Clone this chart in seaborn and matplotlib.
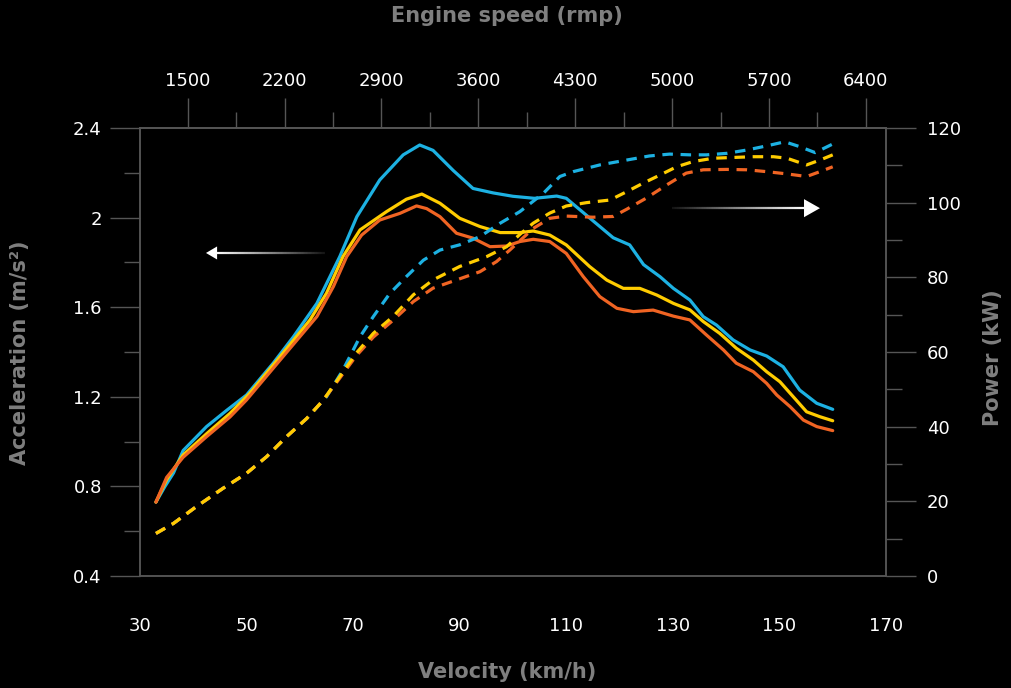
import numpy as np
import matplotlib
matplotlib.use("Agg")
import matplotlib.pyplot as plt
import matplotlib.ticker as ticker
from matplotlib.collections import LineCollection
import seaborn as sns

# --- data ---
# acceleration (left axis), solid lines
v_acc_blue = [33, 34.7, 36.3, 38.1, 42.5, 46.3, 50, 55, 58.8, 63.2, 67.5, 70.7, 75, 79.4, 82.5, 85, 88.8,
              92.5, 96.3, 100, 104, 108.2, 110, 113.8, 116.3, 118.8, 121.9, 124.5, 127.6, 130.1, 133.2,
              135.7, 138.2, 141.3, 144.5, 147.6, 150.7, 153.8, 157, 160]
acc_blue = [0.73, 0.80, 0.86, 0.96, 1.067, 1.14, 1.208, 1.35, 1.468, 1.617, 1.826, 2.004, 2.168, 2.28, 2.324,
            2.30, 2.21, 2.13, 2.11, 2.095, 2.086, 2.096, 2.086, 2.01, 1.96, 1.91, 1.878, 1.79, 1.736, 1.684,
            1.632, 1.558, 1.52, 1.454, 1.409, 1.382, 1.334, 1.23, 1.171, 1.144]

v_acc_yellow = [33, 35, 38.1, 42.5, 46.9, 50.6, 56.3, 61.9, 65, 68.1, 71.3, 76.3, 80, 82.9, 86.3, 90, 93.8,
                97.6, 101.3, 103.8, 106.9, 110, 114.4, 117.6, 120.7, 123.8, 127, 130.1, 133.2, 135.7, 138.8,
                141.9, 145.1, 147.6, 150.1, 152.6, 155.1, 157.6, 160]
acc_yellow = [0.73, 0.83, 0.94, 1.035, 1.126, 1.215, 1.379, 1.543, 1.662, 1.826, 1.945, 2.027, 2.082, 2.105,
              2.064, 1.997, 1.96, 1.933, 1.933, 1.94, 1.922, 1.878, 1.781, 1.721, 1.684, 1.684, 1.654, 1.617,
              1.588, 1.536, 1.483, 1.417, 1.364, 1.312, 1.267, 1.2, 1.133, 1.111, 1.093]

v_acc_orange = [33, 35, 38.1, 42.5, 46.9, 50, 56.3, 63.2, 66.3, 68.8, 71.6, 75, 78.8, 81.9, 83.8, 86.3, 89.4,
                92.5, 95.7, 98.8, 101.3, 103.8, 106.9, 110, 113.2, 116.3, 119.5, 122.6, 126.3, 130.1, 133.2,
                136.3, 139.5, 141.9, 145.1, 147.6, 149.5, 152, 154.5, 157, 160]
acc_orange = [0.73, 0.84, 0.93, 1.022, 1.11, 1.186, 1.364, 1.558, 1.692, 1.826, 1.922, 1.989, 2.019, 2.052,
              2.04, 2.004, 1.93, 1.908, 1.87, 1.873, 1.893, 1.903, 1.893, 1.84, 1.736, 1.647, 1.595, 1.58,
              1.587, 1.56, 1.543, 1.476, 1.409, 1.35, 1.312, 1.26, 1.208, 1.156, 1.096, 1.067, 1.049]

# power (right axis), dashed lines
v_pow_blue = [33, 36.3, 40.6, 45.6, 50, 53.8, 57.5, 61.3, 65, 68.1, 71.3, 73.8, 76.9, 80, 83.2, 86.3, 90,
              93.8, 97.6, 101.3, 105.7, 108.8, 111.3, 116.3, 121.3, 125.6, 129.4, 133.2, 136.3, 140.1, 143.9,
              147.6, 151, 153.8, 156.7, 160]
pow_blue = [11.4, 14.1, 18.6, 23.5, 27.5, 32, 37.3, 42.2, 48, 55.2, 64.1, 69.5, 75.7, 80.2, 84.6, 87.3, 88.7,
            90.9, 94.5, 97.6, 102.5, 107, 108.3, 110.1, 111.4, 112.5, 113, 112.8, 112.8, 113.2, 114.1, 115.2,
            116.3, 115, 113.4, 115.7]

v_pow_orange = [33, 36.3, 40.6, 45.6, 50, 53.8, 57.5, 61.3, 64.4, 67.5, 70.6, 73.8, 77.5, 81.3, 85, 89.4,
                93.8, 96.9, 99.4, 101.3, 103.8, 106.9, 110, 115, 118.8, 121.3, 125, 128.8, 132.5, 135.7, 140.1,
                143.9, 147.6, 151.4, 155.1, 157.6, 160]
pow_orange = [11.4, 14.1, 18.6, 23.5, 27.5, 32, 37.3, 42.2, 47.1, 53.0, 59.0, 64.0, 68.5, 73.5, 77.1, 79.3,
              81.5, 84.2, 87.3, 89.8, 93.1, 95.8, 96.4, 96.1, 96.3, 98.2, 101.2, 104.7, 107.9, 108.8, 108.9,
              108.8, 108.3, 107.7, 107, 108.3, 109.6]

v_pow_yellow = [33, 36.3, 40.6, 45.6, 50, 53.8, 57.5, 61.3, 64.4, 67.5, 70.6, 73.8, 77.5, 81.3, 85, 90, 95,
                98.8, 101.3, 103.8, 106.9, 110, 113.8, 118.2, 121.3, 124.4, 127.6, 130.7, 133.8, 137.6, 141.3,
                145.1, 148.9, 151.4, 155.1, 157.6, 160]
pow_yellow = [11.4, 14.1, 18.6, 23.5, 27.5, 32, 37.3, 42.2, 47.1, 53.4, 59.7, 65, 69.5, 75.3, 79.3, 82.9,
              85.5, 88.2, 91.5, 94.5, 97.2, 99.1, 100, 100.7, 102.9, 105.2, 107.4, 109.6, 111, 111.9, 112.1,
              112.3, 112.3, 111.9, 110.1, 111.4, 112.8]

# ticks
vel_ticks = [30, 50, 70, 90, 110, 130, 150, 170]
acc_ticks = [0.4, 0.8, 1.2, 1.6, 2.0, 2.4]
acc_tick_labels = ["0.4", "0.8", "1.2", "1.6", "2", "2.4"]
pow_ticks = [0, 20, 40, 60, 80, 100, 120]
rpm_ticks = [1500, 2200, 2900, 3600, 4300, 5000, 5700, 6400]
rpm_per_kmh = 38.5

BLUE = "#1DB1E2"
YELLOW = "#FFCC00"
ORANGE = "#F06423"
GRID_GRAY = "#555555"
LABEL_GRAY = "#7F7F7F"

sns.set_style("dark", {"axes.facecolor": "black", "figure.facecolor": "black"})
plt.rcParams['font.family'] = ['DejaVu Sans']

fig = plt.figure(figsize=(10.12, 6.88), dpi=100, facecolor="black")
ax = fig.add_axes([0.1383, 0.1628, 0.7372, 0.6512])
ax.set_facecolor("black")
ax2 = ax.twinx()
ax2.set_facecolor("none")

lw = 2.3
line_kw = dict(lw=lw, sort=False, estimator=None, solid_joinstyle="round", solid_capstyle="round")
sns.lineplot(x=v_acc_blue, y=acc_blue, ax=ax, color=BLUE, **line_kw)
sns.lineplot(x=v_acc_yellow, y=acc_yellow, ax=ax, color=YELLOW, **line_kw)
sns.lineplot(x=v_acc_orange, y=acc_orange, ax=ax, color=ORANGE, **line_kw)

dash = (0, (3.3, 2.4))
dash_kw = dict(lw=lw, sort=False, estimator=None, linestyle=dash, dash_joinstyle="round")
sns.lineplot(x=v_pow_blue, y=pow_blue, ax=ax2, color=BLUE, **dash_kw)
sns.lineplot(x=v_pow_orange, y=pow_orange, ax=ax2, color=ORANGE, **dash_kw)
sns.lineplot(x=v_pow_yellow, y=pow_yellow, ax=ax2, color=YELLOW, **dash_kw)

ax.set_xlim(30, 170)
ax.set_ylim(0.4, 2.4)
ax2.set_ylim(0, 120)
ax.grid(False)
ax2.grid(False)

# ticks
tick_kw = dict(direction="out", colors=GRID_GRAY, labelcolor="white", labelsize=13)
ax.set_xticks(vel_ticks)
ax.xaxis.set_minor_locator(ticker.FixedLocator([t + 10 for t in vel_ticks[:-1]]))
ax.set_yticks(acc_ticks)
ax.set_yticklabels(acc_tick_labels)
ax.yaxis.set_minor_locator(ticker.FixedLocator([t + 0.2 for t in acc_ticks[:-1]]))
ax.tick_params(axis="both", which="major", length=21.5, width=1.0, pad=6, **tick_kw)
ax.tick_params(axis="both", which="minor", length=11.5, width=1.0, **tick_kw)
ax.tick_params(axis="x", which="major", pad=8)
ax.tick_params(top=False, right=False, which="both")

ax2.set_yticks(pow_ticks)
ax2.yaxis.set_minor_locator(ticker.FixedLocator([t + 10 for t in pow_ticks[:-1]]))
ax2.tick_params(axis="y", which="major", length=21.5, width=1.0, pad=8, **tick_kw)
ax2.tick_params(axis="y", which="minor", length=11.5, width=1.0, **tick_kw)

top = ax.secondary_xaxis("top", functions=(lambda v: v * rpm_per_kmh, lambda r: r / rpm_per_kmh))
top.set_xticks(rpm_ticks)
top.xaxis.set_minor_locator(ticker.FixedLocator([t + 350 for t in rpm_ticks[:-1]]))
top.tick_params(axis="x", which="major", length=21.5, width=1.0, pad=6, **tick_kw)
top.tick_params(axis="x", which="minor", length=11.5, width=1.0, **tick_kw)

for a in (ax, ax2, top):
    for sp in a.spines.values():
        sp.set_color(GRID_GRAY)
        sp.set_linewidth(1.1)

# axis titles
lab_kw = dict(color=LABEL_GRAY, fontsize=15, fontweight="bold", ha="center", va="center")
fig.text(0.501, 0.977, "Engine speed (rmp)", **lab_kw)
fig.text(0.501, 0.023, "Velocity (km/h)", **lab_kw)
fig.text(0.020, 0.488, "Acceleration (m/s²)", rotation=90, **lab_kw)
fig.text(0.981, 0.480, "Power (kW)", rotation=90, **lab_kw)


# arrows with fading shafts
def fade_arrow(x_dark, x_base, x_tip, y, hl, hw):
    xs = np.linspace(x_dark, x_base, 80)
    segs = [[(xs[i], y), (xs[i + 1], y)] for i in range(len(xs) - 1)]
    shades = np.linspace(0.08, 1.0, len(segs))
    cols = [(s, s, s, 1.0) for s in shades]
    lc = LineCollection(segs, colors=cols, linewidths=1.6, transform=ax.transAxes, clip_on=False, zorder=5)
    ax.add_collection(lc)
    ax.annotate("", xy=(x_tip, y), xytext=(x_dark, y), xycoords="axes fraction",
                arrowprops=dict(arrowstyle=f"-|>,head_length={hl},head_width={hw}", color="white",
                                lw=0, shrinkA=0, shrinkB=0, mutation_scale=10), zorder=6)


fade_arrow(0.248, 0.100, 0.0885, 0.721, 0.8, 0.47)
fade_arrow(0.713, 0.892, 0.9115, 0.821, 1.15, 0.65)

fig.savefig("out.png", dpi=100, facecolor="black")
